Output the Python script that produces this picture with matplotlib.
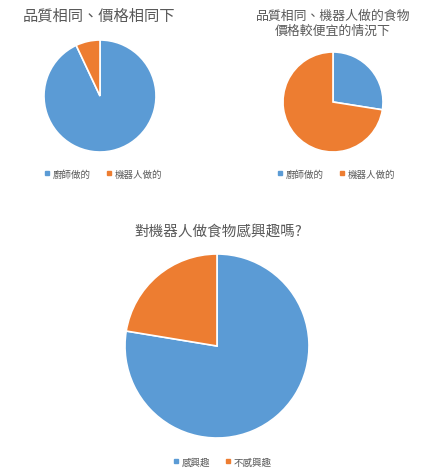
import matplotlib.pyplot as plt
from matplotlib.lines import Line2D

plt.rcParams['font.family'] = ['Noto Sans CJK TC', 'DejaVu Sans']

# data (percent)
labels_maker = ['廚師做的', '機器人做的']
same_price = [93, 7]
cheaper = [27.5, 72.5]
labels_interest = ['感興趣', '不感興趣']
interest = [77.6, 22.4]

titles = ['品質相同、價格相同下',
          '品質相同、機器人做的食物\n價格較便宜的情況下',
          '對機器人做食物感興趣嗎?']

blue = '#5B9BD5'
orange = '#ED7D31'
gray = '#595959'

W, H = 441, 477
fig = plt.figure(figsize=(W / 100, H / 100), dpi=100)


def draw_pie(vals, cx, cy, r):
    # pixel centre / radius -> figure axes
    ax = fig.add_axes([(cx - r) / W, 1 - (cy + r) / H, 2 * r / W, 2 * r / H])
    ax.pie(vals, colors=[blue, orange], startangle=90, counterclock=False,
           radius=1, wedgeprops=dict(edgecolor='white', linewidth=1.2))
    # pie() sets +-1.25 limits itself, so reset them afterwards
    ax.set_xlim(-1, 1)
    ax.set_ylim(-1, 1)
    ax.set_aspect('equal')
    ax.axis('off')
    return ax


def legend(labels, x, y):
    handles = [Line2D([], [], marker='s', linestyle='', color=c, markersize=3)
               for c in (blue, orange)]
    fig.legend(handles, labels, loc='center', bbox_to_anchor=(x / W, 1 - y / H),
               ncol=2, frameon=False, fontsize=6.8, handlelength=0.6,
               handletextpad=0.3, columnspacing=1.6, labelcolor=gray)


draw_pie(same_price, 100, 97, 56)
fig.text(99 / W, 1 - 16 / H, titles[0], ha='center', va='center',
         fontsize=11, color=gray)
legend(labels_maker, 103, 175)

draw_pie(cheaper, 333, 103, 50)
fig.text(333 / W, 1 - 24 / H, titles[1], ha='center', va='center',
         fontsize=9.3, color=gray, linespacing=1.25)
legend(labels_maker, 336, 175)

draw_pie(interest, 217, 347, 92)
fig.text(218 / W, 1 - 232 / H, titles[2], ha='center', va='center',
         fontsize=10.5, color=gray)
legend(labels_interest, 222, 463)

fig.savefig('out.png', dpi=100, facecolor='white')
